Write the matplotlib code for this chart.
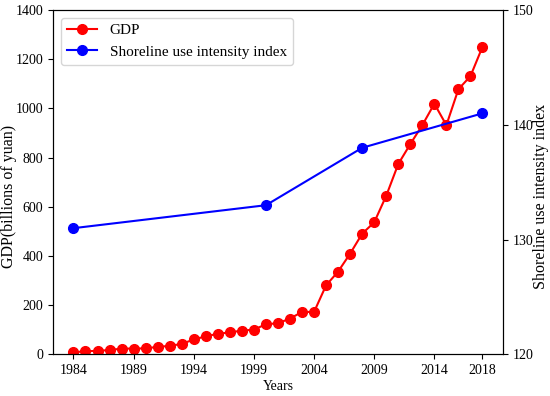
import numpy as np
import matplotlib
matplotlib.use('Agg')
import matplotlib.pyplot as plt

plt.rcParams['font.family'] = ['Liberation Serif', 'DejaVu Serif']
plt.rcParams['mathtext.fontset'] = 'stix'

years = list(range(1984, 2019))
gdp = [9, 13, 15, 18, 24, 24, 25, 31, 35, 43,
       61, 74, 84, 90, 97, 101, 123, 127, 146, 173,
       173, 281, 337, 410, 491, 537, 645, 774, 855, 932,
       1019, 932, 1078, 1131, 1250]

idx_years = [1984, 2000, 2008, 2018]
idx_vals = [131, 133, 138, 141]

xticks = [1984, 1989, 1994, 1999, 2004, 2009, 2014, 2018]

fig = plt.figure(figsize=(5.5, 3.96), dpi=100)
ax1 = fig.add_axes([0.0964, 0.1048, 0.818, 0.870])
ax2 = ax1.twinx()

l1, = ax1.plot(years, gdp, color='red', marker='o', markersize=7, linewidth=1.5, label='GDP')
l2, = ax2.plot(idx_years, idx_vals, color='blue', marker='o', markersize=7, linewidth=1.5,
               label='Shoreline use intensity index')

ax1.set_xlim(1982.3, 2019.7)
ax1.set_ylim(0, 1400)
ax2.set_ylim(120, 150)
ax1.set_yticks(np.arange(0, 1401, 200))
ax2.set_yticks([120, 130, 140, 150])
ax1.set_xticks(xticks)

ax1.tick_params(labelsize=10)
ax2.tick_params(labelsize=10)
ax1.set_xlabel('Years', fontsize=10, labelpad=2)
ax1.set_ylabel('GDP(billions of yuan)', fontsize=11.5)
ax2.set_ylabel('Shoreline use intensity index', fontsize=11.5)
# label positions (axes fraction)
ax1.yaxis.set_label_coords(-0.08, 0.46)
ax2.yaxis.set_label_coords(1.066, 0.46)

ax1.legend(handles=[l1, l2], loc='upper left', fontsize=11, handlelength=2,
           framealpha=0.8)

fig.savefig('out.png', dpi=100)
